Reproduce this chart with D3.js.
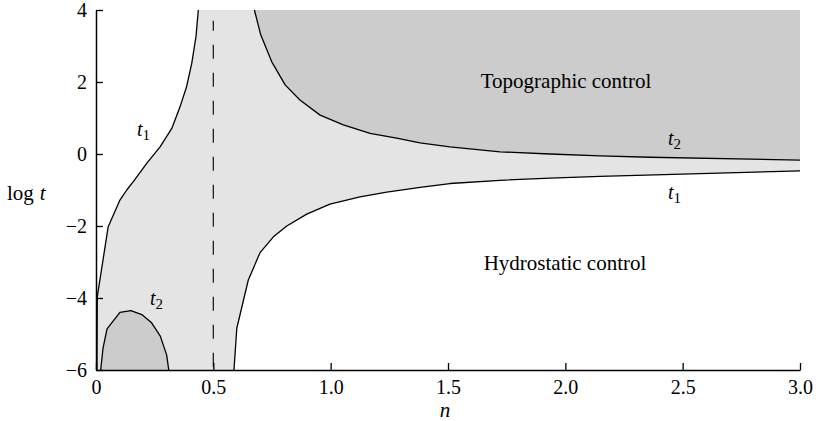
<!DOCTYPE html>
<html>
<head>
<meta charset="utf-8">
<script src="https://cdn.jsdelivr.net/npm/d3@7"></script>
<style>
  html, body { margin: 0; padding: 0; background: #fff; }
  svg { display: block; font-family: "Liberation Serif", "Times New Roman", serif; }
</style>
</head>
<body>
<svg id="chart" width="816" height="421" font-family="'Liberation Serif', 'Times New Roman', serif"></svg>
<script>
// Boundary curves in the (n, log t) plane
const t1Left = [[0.004,-6],[0.0055,-3.96],[0.052,-2.02],[0.102,-1.28],[0.131,-1.0],[0.159,-0.77],
  [0.216,-0.26],[0.273,0.2],[0.323,0.71],[0.358,1.31],[0.386,1.87],[0.408,2.52],[0.426,3.26],[0.436,4]];
const t1Right = [[0.588,-6],[0.6,-4.84],[0.649,-3.5],[0.699,-2.74],[0.756,-2.3],[0.813,-2.0],[0.898,-1.67],
  [0.997,-1.39],[1.125,-1.19],[1.239,-1.06],[1.381,-0.93],[1.508,-0.82],[1.722,-0.73],[1.935,-0.67],
  [2.148,-0.62],[3.0,-0.47]];
const t2Upper = [[0.675,4],[0.702,3.31],[0.749,2.56],[0.806,1.92],[0.869,1.5],[0.955,1.08],[1.054,0.81],
  [1.168,0.57],[1.281,0.44],[1.381,0.31],[1.508,0.2],[1.722,0.06],[1.935,0.0],[2.148,-0.05],
  [2.361,-0.09],[3.0,-0.17]];
const t2Lower = [[0.02,-6],[0.03,-5.39],[0.047,-4.86],[0.102,-4.40],[0.149,-4.35],[0.195,-4.46],
  [0.237,-4.69],[0.274,-5.06],[0.301,-5.58],[0.31,-6]];
const criticalN = 0.5;

const xTicks = [0, 0.5, 1.0, 1.5, 2.0, 2.5, 3.0];
const yTicks = [-6, -4, -2, 0, 2, 4];
const xDomain = [0, 3];
const yDomain = [-6, 4];

const svg = d3.select("#chart");
const x = d3.scaleLinear().domain(xDomain).range([96, 800]);
const y = d3.scaleLinear().domain(yDomain).range([370, 10]);

const line = d3.line().x(d => x(d[0])).y(d => y(d[1]));

// Transition zone between the two t1 curves
const transition = t1Left.concat([[xDomain[1], yDomain[1]]], t1Right.slice().reverse());
svg.append("path").attr("d", line(transition) + "Z").attr("fill", "#e4e4e4");

// Topographic control regions above/inside t2
const topo = t2Upper.concat([[xDomain[1], yDomain[1]]]);
svg.append("path").attr("d", line(topo) + "Z").attr("fill", "#cccccc");
svg.append("path").attr("d", line(t2Lower) + "Z").attr("fill", "#cccccc");

// Boundary lines
[t1Left, t1Right, t2Upper, t2Lower].forEach(c => {
  svg.append("path").attr("d", line(c))
    .attr("fill", "none").attr("stroke", "#000").attr("stroke-width", 1.3)
    .attr("stroke-linejoin", "round");
});

// n = 1/2 marker
svg.append("line")
  .attr("x1", x(criticalN)).attr("x2", x(criticalN))
  .attr("y1", y(3.7)).attr("y2", y(-6))
  .attr("stroke", "#222").attr("stroke-width", 1.3)
  .attr("stroke-dasharray", "14,14").attr("stroke-dashoffset", 4);

// Axes
const fmtX = d => d === 0 ? "0" : d3.format(".1f")(d);
const xAxis = d3.axisBottom(x).tickValues(xTicks).tickFormat(fmtX)
  .tickSizeInner(-7).tickSizeOuter(0).tickPadding(10);
const yAxis = d3.axisLeft(y).tickValues(yTicks).tickFormat(d3.format("d"))
  .tickSizeInner(-7).tickSizeOuter(0).tickPadding(9);

const gx = svg.append("g").attr("transform", `translate(0,${y(yDomain[0])})`).call(xAxis);
const gy = svg.append("g").attr("transform", `translate(${x(xDomain[0])},0)`).call(yAxis);
[gx, gy].forEach(g => {
  g.attr("font-family", null).attr("font-size", null);
  g.selectAll("path.domain").attr("stroke", "#000").attr("stroke-width", 1.5);
  g.selectAll(".tick line").attr("stroke", "#000").attr("stroke-width", 1.3);
  g.selectAll("text").attr("fill", "#000")
    .style("font-family", "'Liberation Serif', 'Times New Roman', serif")
    .style("font-size", "20px");
});

// Axis titles
svg.append("text").attr("x", 445).attr("y", 417)
  .attr("text-anchor", "middle").style("font-size", "21px").style("font-style", "italic").text("n");
const yt = svg.append("text").attr("x", 7).attr("y", 200).style("font-size", "21px");
yt.append("tspan").text("log");
yt.append("tspan").attr("dx", 6).style("font-style", "italic").text("t");

// Curve labels with subscripts
function curveLabel(px, py, sub) {
  const t = svg.append("text").attr("x", px).attr("y", py).style("font-size", "20px");
  t.append("tspan").style("font-style", "italic").text("t");
  t.append("tspan").attr("dy", 4).style("font-size", "15px").text(sub);
}
curveLabel(137, 136, "1");
curveLabel(150, 305, "2");
curveLabel(668, 145, "2");
curveLabel(668, 199, "1");

// Regime labels
svg.append("text").attr("x", 566).attr("y", 88).attr("text-anchor", "middle")
  .style("font-size", "21px").text("Topographic control");
svg.append("text").attr("x", 565).attr("y", 270).attr("text-anchor", "middle")
  .style("font-size", "21px").text("Hydrostatic control");
</script>
</body>
</html>
